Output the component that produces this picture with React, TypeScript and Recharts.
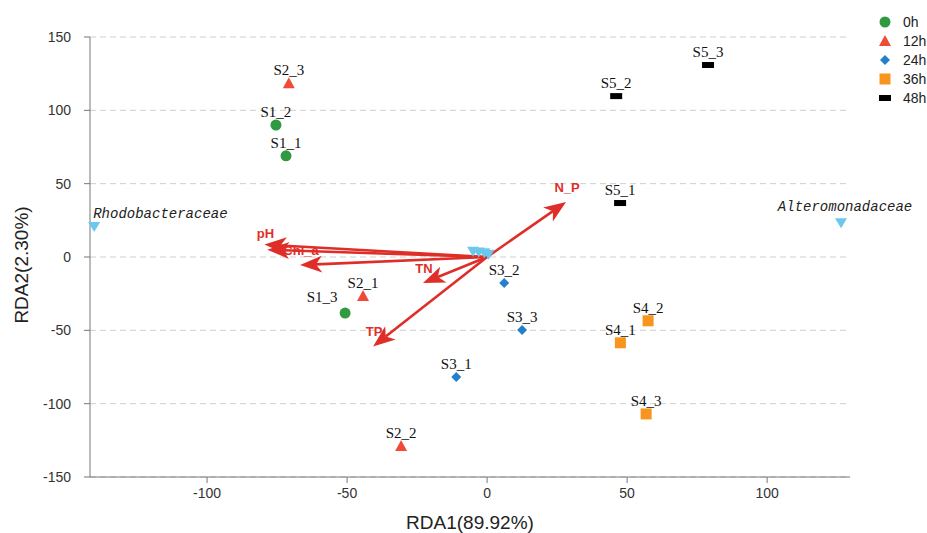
import React from 'react';
import { ScatterChart, Scatter, XAxis, YAxis, CartesianGrid, ReferenceLine, Label } from 'recharts';

// sample scores per sampling time
const NAMES_0H = ['S1_1', 'S1_2', 'S1_3'];
const X_0H = [-71.8, -75.4, -50.7];
const Y_0H = [69, 90, -38.2];

const NAMES_12H = ['S2_1', 'S2_2', 'S2_3'];
const X_12H = [-44.3, -30.7, -70.8];
const Y_12H = [-26.6, -128.8, 118.5];

const NAMES_24H = ['S3_1', 'S3_2', 'S3_3'];
const X_24H = [-11, 6.1, 12.5];
const Y_24H = [-81.8, -17.7, -49.8];

const NAMES_36H = ['S4_1', 'S4_2', 'S4_3'];
const X_36H = [47.6, 57.5, 56.8];
const Y_36H = [-58.5, -43.5, -107];

const NAMES_48H = ['S5_1', 'S5_2', 'S5_3'];
const X_48H = [47.5, 46.1, 78.9];
const Y_48H = [36.8, 109.7, 130.9];

// species scores
const SPECIES_NAMES = ['Rhodobacteraceae', 'Alteromonadaceae', '', '', '', ''];
const SPECIES_X = [-140.3, 126.4, -5, -3, -1, 0.5];
const SPECIES_Y = [20.5, 23, 3.5, 3, 2.5, 1.5];

// environmental factor arrows
const ENV_NAMES = ['pH', '', 'Chl_a', 'TN', 'TP', 'N_P'];
const ENV_X = [-79.5, -78.5, -66.8, -22.9, -40.7, 28.2];
const ENV_Y = [8.5, 5, -5.5, -17.7, -61, 37.5];

const X_TICKS = [-100, -50, 0, 50, 100];
const Y_TICKS = [-150, -100, -50, 0, 50, 100, 150];

const SANS = '"Liberation Sans", Arial, sans-serif';
const SERIF = '"Liberation Serif", "Times New Roman", serif';
const ARROW_RED = '#DF2E28';

const zip = (names: string[], xs: number[], ys: number[]) =>
  names.map((name, i) => ({ name, x: xs[i], y: ys[i] }));

// label nudges for crowded points
const LABEL_NUDGE: Record<string, [number, number]> = {
  S1_3: [-23, -3],
};

const SampleLabel = ({ cx, cy, name }: { cx: number; cy: number; name: string }) => {
  const [dx, dy] = LABEL_NUDGE[name] || [0, 0];
  return (
    <text x={cx + dx} y={cy - 8 + dy} textAnchor="middle" fontFamily={SERIF} fontSize={15} fill="#111">
      {name}
    </text>
  );
};

const circleShape = (p: any) => (
  <g>
    <circle cx={p.cx} cy={p.cy} r={5.5} fill="#2F9A3F" />
    <SampleLabel cx={p.cx} cy={p.cy} name={p.payload.name} />
  </g>
);

const triangleShape = (p: any) => (
  <g>
    <polygon points={`${p.cx},${p.cy - 6} ${p.cx + 6},${p.cy + 5} ${p.cx - 6},${p.cy + 5}`} fill="#F04B37" />
    <SampleLabel cx={p.cx} cy={p.cy} name={p.payload.name} />
  </g>
);

const diamondShape = (p: any) => (
  <g>
    <polygon points={`${p.cx},${p.cy - 5} ${p.cx + 5},${p.cy} ${p.cx},${p.cy + 5} ${p.cx - 5},${p.cy}`} fill="#2480CC" />
    <SampleLabel cx={p.cx} cy={p.cy} name={p.payload.name} />
  </g>
);

const squareShape = (p: any) => (
  <g>
    <rect x={p.cx - 5.5} y={p.cy - 5.5} width={11} height={11} fill="#F7951F" />
    <SampleLabel cx={p.cx} cy={p.cy} name={p.payload.name} />
  </g>
);

const barShape = (p: any) => (
  <g>
    <rect x={p.cx - 6} y={p.cy - 3} width={12} height={6} fill="#000" />
    <SampleLabel cx={p.cx} cy={p.cy} name={p.payload.name} />
  </g>
);

const speciesShape = (p: any) => {
  const name = p.payload.name;
  const anchor = p.payload.x < 0 ? 'start' : 'middle';
  return (
    <g>
      <polygon points={`${p.cx - 6},${p.cy - 5} ${p.cx + 6},${p.cy - 5} ${p.cx},${p.cy + 5}`} fill="#6CC7EC" />
      {name && (
        <text
          x={p.cx + (anchor === 'start' ? -1 : 4)}
          y={p.cy - (anchor === 'start' ? 9 : 12)}
          textAnchor={anchor}
          fontFamily='"Liberation Mono", "DejaVu Sans Mono", monospace'
          fontStyle="italic"
          fontSize={14}
          fill="#222"
        >
          {name}
        </text>
      )}
    </g>
  );
};

const Arrow = (p: any) => {
  const { x1, y1, x2, y2, name } = p;
  const dx = x2 - x1;
  const dy = y2 - y1;
  const len = Math.sqrt(dx * dx + dy * dy) || 1;
  const ux = dx / len;
  const uy = dy / len;
  const L = 22;
  const w = 8.5;
  const bx = x2 - ux * L;
  const by = y2 - uy * L;
  const nx = x2 - ux * (L - 6);
  const ny = y2 - uy * (L - 6);
  const px = -uy;
  const py = ux;
  const pts = `${x2},${y2} ${bx + px * w},${by + py * w} ${nx},${ny} ${bx - px * w},${by - py * w}`;
  return (
    <g>
      {name && (
        <text
          x={x2 + 1}
          y={y2 - (name === 'pH' ? 7 : 10)}
          textAnchor="middle"
          fontFamily={SANS}
          fontWeight="bold"
          fontSize={13}
          fill={ARROW_RED}
        >
          {name}
        </text>
      )}
      <line x1={x1} y1={y1} x2={nx} y2={ny} stroke={ARROW_RED} strokeWidth={2.6} />
      <polygon points={pts} fill={ARROW_RED} />
    </g>
  );
};

const LEGEND = [
  { label: '0h', marker: <circle cx={7} cy={7} r={5.5} fill="#2F9A3F" /> },
  { label: '12h', marker: <polygon points="7,1 13,12 1,12" fill="#F04B37" /> },
  { label: '24h', marker: <polygon points="7,2 12,7 7,12 2,7" fill="#2480CC" /> },
  { label: '36h', marker: <rect x={1.5} y={1.5} width={11} height={11} fill="#F7951F" /> },
  { label: '48h', marker: <rect x={1} y={4} width={12} height={6} fill="#000" /> },
];

export default function App() {
  return (
    <div style={{ position: 'relative', width: 927, height: 533, background: '#fff', overflow: 'hidden' }}>
      <style>{'body{margin:0}'}</style>
      <ScatterChart width={927} height={533} margin={{ top: 37, right: 77, bottom: 0, left: 0 }}>
        <CartesianGrid horizontal vertical={false} stroke="#cfcfcf" strokeDasharray="6 4" />
        <XAxis
          type="number"
          dataKey="x"
          domain={[-141.8, 129.6]}
          ticks={X_TICKS}
          height={56}
          tickSize={6}
          tickMargin={5}
          axisLine={{ stroke: '#777' }}
          tickLine={{ stroke: '#777' }}
          tick={{ fill: '#333', fontSize: 14, fontFamily: SANS }}
        >
          <Label
            content={(props: any) => {
              const vb = props.viewBox;
              return (
                <text x={vb.x + vb.width / 2} y={vb.y + 52} textAnchor="middle" fontFamily={SANS} fontSize={19} fill="#222">
                  RDA1(89.92%)
                </text>
              );
            }}
          />
        </XAxis>
        <YAxis
          type="number"
          dataKey="y"
          domain={[-150, 150]}
          ticks={Y_TICKS}
          width={90}
          tickSize={6}
          tickMargin={13}
          axisLine={{ stroke: '#777' }}
          tickLine={{ stroke: '#777' }}
          tick={{ fill: '#333', fontSize: 14, fontFamily: SANS }}
        >
          <Label
            content={(props: any) => {
              const vb = props.viewBox;
              const cx = vb.x + 28;
              const cy = vb.y + vb.height / 2 + 8;
              return (
                <text
                  x={cx}
                  y={cy}
                  transform={`rotate(-90 ${cx} ${cy})`}
                  textAnchor="middle"
                  fontFamily={SANS}
                  fontSize={19}
                  fill="#222"
                >
                  RDA2(2.30%)
                </text>
              );
            }}
          />
        </YAxis>
        <Scatter data={zip(SPECIES_NAMES, SPECIES_X, SPECIES_Y)} shape={speciesShape} isAnimationActive={false} />
        <Scatter name="0h" data={zip(NAMES_0H, X_0H, Y_0H)} shape={circleShape} isAnimationActive={false} />
        <Scatter name="12h" data={zip(NAMES_12H, X_12H, Y_12H)} shape={triangleShape} isAnimationActive={false} />
        <Scatter name="24h" data={zip(NAMES_24H, X_24H, Y_24H)} shape={diamondShape} isAnimationActive={false} />
        <Scatter name="36h" data={zip(NAMES_36H, X_36H, Y_36H)} shape={squareShape} isAnimationActive={false} />
        <Scatter name="48h" data={zip(NAMES_48H, X_48H, Y_48H)} shape={barShape} isAnimationActive={false} />
        {ENV_NAMES.map((n, i) => (
          <ReferenceLine
            key={`env-${i}`}
            segment={[
              { x: 0, y: 0 },
              { x: ENV_X[i], y: ENV_Y[i] },
            ]}
            ifOverflow="visible"
            shape={(p: any) => <Arrow {...p} name={n} />}
          />
        ))}
      </ScatterChart>
      <div style={{ position: 'absolute', left: 878, top: 12, fontFamily: SANS, fontSize: 14, color: '#222' }}>
        {LEGEND.map((item) => (
          <div key={item.label} style={{ display: 'flex', alignItems: 'center', height: 19 }}>
            <svg width={14} height={14} style={{ marginRight: 11 }}>
              {item.marker}
            </svg>
            <span>{item.label}</span>
          </div>
        ))}
      </div>
    </div>
  );
}
